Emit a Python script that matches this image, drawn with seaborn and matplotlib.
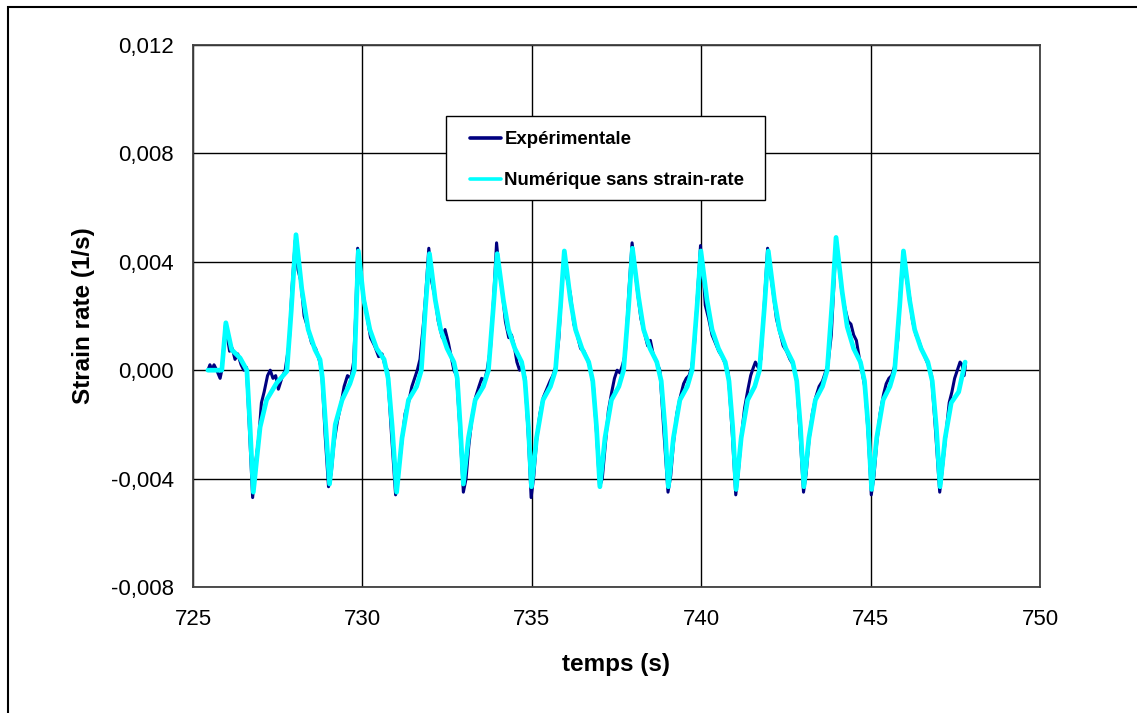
import numpy as np
import pandas as pd
import matplotlib
matplotlib.use("Agg")
import matplotlib.pyplot as plt
import matplotlib.ticker as mticker
from matplotlib.patches import Rectangle
import seaborn as sns

# Experimental strain rate (time in s, rate in 1/s)
exp_time = [725.44, 725.50, 725.56, 725.62, 725.70, 725.80, 725.85, 725.96, 726.08, 726.16,
            726.24, 726.32, 726.42, 726.50, 726.58, 726.66, 726.76, 726.86, 726.94, 727.02,
            727.10, 727.20, 727.28, 727.36, 727.44, 727.52, 727.62, 727.72, 727.84, 727.92,
            728.02, 728.10, 728.18, 728.28, 728.38, 728.50, 728.62, 728.72, 728.80, 728.90,
            729.00, 729.08, 729.16, 729.26, 729.36, 729.46, 729.56, 729.66, 729.74, 729.80,
            729.86, 729.94, 730.02, 730.12, 730.24, 730.36, 730.48, 730.58, 730.66, 730.74,
            730.86, 730.98, 731.06, 731.16, 731.26, 731.36, 731.46, 731.54, 731.62, 731.70,
            731.80, 731.88, 731.96, 732.04, 732.14, 732.24, 732.36, 732.44, 732.54, 732.62,
            732.70, 732.78, 732.88, 732.98, 733.06, 733.14, 733.24, 733.34, 733.44, 733.52,
            733.60, 733.68, 733.78, 733.88, 733.96, 734.04, 734.12, 734.22, 734.32, 734.40,
            734.48, 734.56, 734.64, 734.72, 734.80, 734.90, 734.98, 735.06, 735.14, 735.24,
            735.34, 735.44, 735.54, 735.62, 735.70, 735.80, 735.88, 735.96, 736.04, 736.14,
            736.24, 736.34, 736.44, 736.54, 736.64, 736.72, 736.82, 736.92, 737.00, 737.08,
            737.16, 737.26, 737.36, 737.44, 737.52, 737.60, 737.68, 737.76, 737.86, 737.96,
            738.04, 738.12, 738.22, 738.32, 738.42, 738.50, 738.58, 738.68, 738.78, 738.90,
            739.02, 739.10, 739.18, 739.28, 739.38, 739.48, 739.56, 739.64, 739.72, 739.80,
            739.90, 739.98, 740.02, 740.06, 740.12, 740.22, 740.32, 740.42, 740.52, 740.62,
            740.72, 740.80, 740.92, 741.02, 741.10, 741.18, 741.28, 741.38, 741.46, 741.54,
            741.60, 741.68, 741.76, 741.86, 741.96, 742.04, 742.12, 742.22, 742.32, 742.42,
            742.52, 742.62, 742.72, 742.82, 742.92, 743.02, 743.10, 743.18, 743.28, 743.38,
            743.48, 743.58, 743.66, 743.74, 743.84, 743.92, 743.98, 744.06, 744.14, 744.24,
            744.34, 744.42, 744.50, 744.58, 744.66, 744.74, 744.84, 744.94, 745.02, 745.10,
            745.18, 745.28, 745.38, 745.46, 745.54, 745.62, 745.70, 745.80, 745.88, 745.96,
            746.04, 746.14, 746.24, 746.34, 746.42, 746.50, 746.60, 746.70, 746.80, 746.92,
            747.04, 747.12, 747.22, 747.32, 747.40, 747.48, 747.56, 747.64, 747.70, 747.76,
            747.80]
exp_rate = [0.0000, 0.0002, 0.0000, 0.0002, 0.0000, -0.0003, 0.0000, 0.0017, 0.0007, 0.0008,
            0.0004, 0.0006, 0.0002, 0.0000, 0.0001, -0.0020, -0.0047, -0.0033, -0.0025, -0.0012,
            -0.0008, -0.0002, 0.0000, -0.0003, -0.0002, -0.0007, -0.0003, 0.0000, 0.0010, 0.0030,
            0.0048, 0.0037, 0.0033, 0.0020, 0.0016, 0.0010, 0.0008, 0.0004, 0.0000, -0.0024,
            -0.0043, -0.0038, -0.0027, -0.0019, -0.0013, -0.0006, -0.0002, -0.0003, 0.0003, 0.0020,
            0.0045, 0.0035, 0.0028, 0.0021, 0.0012, 0.0009, 0.0005, 0.0006, 0.0002, 0.0000,
            -0.0024, -0.0046, -0.0038, -0.0027, -0.0016, -0.0012, -0.0006, -0.0003, 0.0000, 0.0004,
            0.0017, 0.0030, 0.0045, 0.0033, 0.0027, 0.0018, 0.0012, 0.0015, 0.0010, 0.0005,
            0.0000, -0.0002, -0.0022, -0.0045, -0.0040, -0.0028, -0.0017, -0.0010, -0.0006, -0.0003,
            -0.0004, 0.0000, 0.0008, 0.0028, 0.0047, 0.0036, 0.0030, 0.0018, 0.0012, 0.0013,
            0.0009, 0.0003, 0.0000, 0.0002, -0.0003, -0.0025, -0.0047, -0.0039, -0.0026, -0.0016,
            -0.0010, -0.0007, -0.0004, -0.0002, 0.0001, 0.0012, 0.0030, 0.0043, 0.0034, 0.0028,
            0.0017, 0.0013, 0.0008, 0.0007, 0.0004, 0.0001, -0.0006, -0.0025, -0.0043, -0.0040,
            -0.0029, -0.0015, -0.0008, -0.0003, 0.0000, -0.0001, 0.0002, 0.0006, 0.0028, 0.0047,
            0.0038, 0.0029, 0.0019, 0.0014, 0.0009, 0.0011, 0.0006, 0.0003, 0.0000, -0.0023,
            -0.0045, -0.0039, -0.0027, -0.0016, -0.0010, -0.0005, -0.0003, -0.0002, 0.0001, 0.0009,
            0.0030, 0.0046, 0.0034, 0.0036, 0.0024, 0.0019, 0.0013, 0.0010, 0.0007, 0.0005,
            0.0002, -0.0001, -0.0024, -0.0046, -0.0037, -0.0025, -0.0014, -0.0007, -0.0002, 0.0001,
            0.0003, 0.0001, 0.0004, 0.0024, 0.0045, 0.0036, 0.0029, 0.0019, 0.0014, 0.0009,
            0.0007, 0.0004, 0.0002, -0.0004, -0.0024, -0.0045, -0.0038, -0.0026, -0.0016, -0.0010,
            -0.0006, -0.0004, -0.0001, 0.0002, 0.0013, 0.0032, 0.0047, 0.0040, 0.0030, 0.0023,
            0.0018, 0.0017, 0.0013, 0.0011, 0.0005, 0.0000, -0.0007, -0.0026, -0.0046, -0.0039,
            -0.0027, -0.0016, -0.0009, -0.0005, -0.0003, -0.0002, 0.0001, 0.0011, 0.0029, 0.0043,
            0.0035, 0.0028, 0.0018, 0.0013, 0.0011, 0.0008, 0.0005, 0.0002, -0.0002, -0.0023,
            -0.0045, -0.0036, -0.0024, -0.0012, -0.0008, -0.0003, 0.0000, 0.0003, 0.0002, -0.0002,
            0.0002]

# Numerical model without strain-rate effect
num_time = [725.44, 725.85, 725.97, 726.14, 726.39, 726.59, 726.68, 726.78, 726.98, 727.17,
            727.47, 727.77, 727.90, 728.04, 728.21, 728.40, 728.60, 728.75, 728.82, 728.92,
            729.03, 729.20, 729.40, 729.63, 729.76, 729.82, 729.88, 730.04, 730.22, 730.42,
            730.64, 730.76, 730.88, 731.01, 731.17, 731.36, 731.60, 731.74, 731.86, 731.98,
            732.15, 732.31, 732.50, 732.70, 732.80, 732.89, 732.98, 733.13, 733.33, 733.57,
            733.72, 733.87, 733.98, 734.16, 734.31, 734.50, 734.70, 734.80, 734.90, 734.99,
            735.14, 735.33, 735.55, 735.70, 735.85, 735.96, 736.14, 736.29, 736.48, 736.68,
            736.80, 736.91, 737.01, 737.16, 737.35, 737.57, 737.71, 737.86, 737.97, 738.15,
            738.30, 738.49, 738.69, 738.82, 738.93, 739.03, 739.18, 739.37, 739.59, 739.73,
            739.88, 739.99, 740.17, 740.32, 740.51, 740.71, 740.82, 740.93, 741.03, 741.18,
            741.37, 741.58, 741.72, 741.87, 741.98, 742.16, 742.31, 742.50, 742.70, 742.82,
            742.93, 743.03, 743.18, 743.37, 743.58, 743.72, 743.87, 743.98, 744.16, 744.31,
            744.50, 744.70, 744.82, 744.93, 745.03, 745.18, 745.37, 745.57, 745.71, 745.86,
            745.97, 746.15, 746.30, 746.49, 746.69, 746.82, 746.94, 747.05, 747.20, 747.38,
            747.60, 747.79]
num_rate = [0.0000, 0.0000, 0.00175, 0.00076, 0.00045, 0.0000, -0.0020, -0.0045, -0.0021, -0.0011,
            -0.00047, -0.00004, 0.0022, 0.0050, 0.0030, 0.0015, 0.00076, 0.00039, -0.0003, -0.0021,
            -0.0042, -0.0020, -0.0011, -0.0005, 0.0000, 0.0022, 0.0044, 0.0026, 0.0015, 0.0008,
            0.0004, -0.0003, -0.0021, -0.0045, -0.0025, -0.0011, -0.0006, 0.0000, 0.0023, 0.0043,
            0.0026, 0.0015, 0.0008, 0.0003, -0.0003, -0.0021, -0.0042, -0.0025, -0.0011, -0.0006,
            0.0000, 0.0024, 0.0043, 0.0026, 0.0015, 0.0008, 0.0003, -0.0004, -0.0021, -0.0043,
            -0.0025, -0.0011, -0.0006, 0.0000, 0.0024, 0.0044, 0.0026, 0.0015, 0.0008, 0.0003,
            -0.0004, -0.0021, -0.0043, -0.0025, -0.0011, -0.0006, 0.0000, 0.0024, 0.0045, 0.0027,
            0.0015, 0.0008, 0.0003, -0.0004, -0.0021, -0.0043, -0.0025, -0.0011, -0.0006, 0.0000,
            0.0024, 0.0044, 0.0026, 0.0015, 0.0008, 0.0003, -0.0004, -0.0021, -0.0044, -0.0025,
            -0.0011, -0.0006, 0.0000, 0.0024, 0.0044, 0.0026, 0.0015, 0.0008, 0.0003, -0.0004,
            -0.0021, -0.0043, -0.0025, -0.0011, -0.0006, 0.0000, 0.0026, 0.0049, 0.0029, 0.0016,
            0.0008, 0.0003, -0.0004, -0.0021, -0.0044, -0.0025, -0.0011, -0.0006, 0.0000, 0.0024,
            0.0044, 0.0026, 0.0015, 0.0008, 0.0003, -0.0004, -0.0021, -0.0043, -0.0025, -0.0012,
            -0.0008, 0.0003]

x_ticks = [725, 730, 735, 740, 745, 750]
y_ticks = [-0.008, -0.004, 0.0, 0.004, 0.008, 0.012]

exp_df = pd.DataFrame({"temps": exp_time, "rate": exp_rate})
num_df = pd.DataFrame({"temps": num_time, "rate": num_rate})

sns.set_style("white")
plt.rcParams["font.family"] = ["Liberation Sans", "DejaVu Sans"]
plt.rcParams["text.color"] = "black"
plt.rcParams["axes.labelcolor"] = "black"

W, H = 1137, 713
fig = plt.figure(figsize=(W / 100, H / 100), dpi=100)
ax = fig.add_axes([193 / W, 1 - 587 / H, (1040 - 193) / W, (587 - 45) / H])

sns.lineplot(data=exp_df, x="temps", y="rate", ax=ax, color="#000080", linewidth=2.2,
             sort=False, estimator=None, label="Expérimentale")
sns.lineplot(data=num_df, x="temps", y="rate", ax=ax, color="#00FFFF", linewidth=3.4,
             sort=False, estimator=None, label="Numérique sans strain-rate")

ax.set_xlim(725, 750)
ax.set_ylim(-0.008, 0.012)
ax.set_xticks(x_ticks)
ax.set_yticks(y_ticks)
ax.yaxis.set_major_formatter(mticker.FuncFormatter(lambda v, p: f"{v:.3f}".replace(".", ",")))
ax.grid(True, color="black", linewidth=1.0)
ax.set_axisbelow(True)
for s in ax.spines.values():
    s.set_color("#404040")
    s.set_linewidth(1.3)

ax.tick_params(axis="x", length=0, pad=16, labelsize=16, labelcolor="black")
ax.tick_params(axis="y", direction="inout", length=9.4, width=1.2, color="#404040",
               pad=9, labelsize=16, labelcolor="black")

ax.set_xlabel("temps (s)", fontsize=17.5, fontweight="bold", va="center", color="black")
ax.set_ylabel("Strain rate (1/s)", fontsize=17.5, fontweight="bold", va="center", color="black")
ax.xaxis.set_label_coords(0.5, (587 - 664) / 542)
ax.yaxis.set_label_coords((83 - 193) / 847, 0.5)

leg = ax.legend(loc="upper left", bbox_to_anchor=(470 / W, 1 - 131 / H),
                bbox_transform=fig.transFigure, frameon=False, borderpad=0,
                borderaxespad=0, handlelength=1.67, handletextpad=0.18,
                labelspacing=1.3, prop={"family": "Liberation Sans", "weight": "bold", "size": 13.4})
for line in leg.get_lines():
    line.set_linewidth(2.6)
for t in leg.get_texts():
    t.set_color("black")
leg.set_zorder(6)

# legend box, above the data lines but under the legend entries
box = Rectangle((446 / W, 1 - 200 / H), (765 - 446) / W, 84 / H, transform=fig.transFigure,
                facecolor="white", edgecolor="black", linewidth=1.0, zorder=5, clip_on=False)
ax.add_patch(box)

# outer chart border
fig.patches.append(Rectangle((8 / W, -0.1), 1.5, 1.1 - 7 / H, transform=fig.transFigure,
                             fill=False, edgecolor="black", linewidth=1.5))

fig.savefig("out.png", dpi=100)
